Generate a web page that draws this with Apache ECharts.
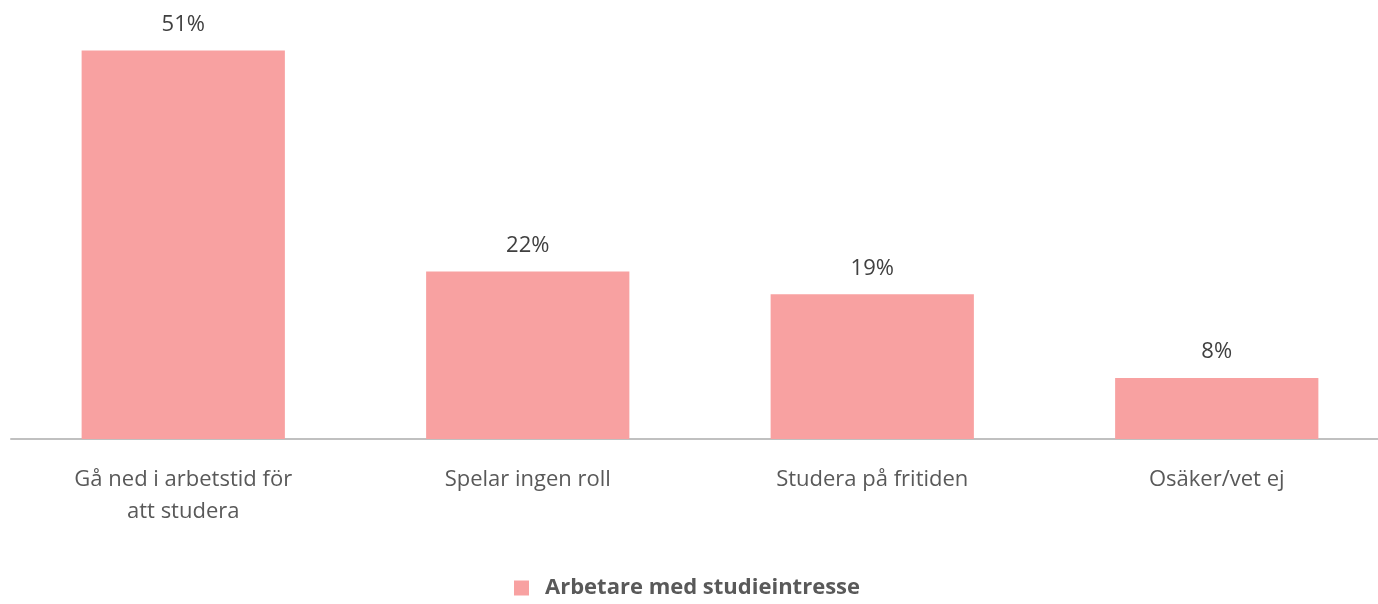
<!DOCTYPE html>
<html>
<head>
<meta charset="utf-8">
<script src="https://cdn.jsdelivr.net/npm/echarts@6/dist/echarts.min.js"></script>
<style>
  html, body { margin: 0; padding: 0; background: #fff; }
  #chart { width: 1378px; height: 604px; }
</style>
</head>
<body>
<div id="chart"></div>
<script>
const categories = ['Gå ned i arbetstid för\natt studera', 'Spelar ingen roll', 'Studera på fritiden', 'Osäker/vet ej']
const seriesName = 'Arbetare med studieintresse'
const values = [51, 22, 19, 8]

const fontFamily = '"Open Sans", Lato, sans-serif'
const chart = echarts.init(document.getElementById('chart'))
const option = {
  animation: false,
  grid: {
    left: 11,
    width: 1378,
    top: 20,
    bottom: 165,
    containLabel: false,
    outerBoundsMode: 'none'
  },
  legend: {
    bottom: 0,
    left: 509,
    icon: 'rect',
    itemWidth: 15,
    itemHeight: 15,
    itemGap: 20,
    textStyle: {
      fontFamily: fontFamily,
      fontSize: 22,
      fontWeight: 'bold',
      color: '#595959',
      padding: [0, 0, 0, 11]
    },
    data: [seriesName]
  },
  xAxis: {
    type: 'category',
    data: categories,
    axisLine: {
      lineStyle: { color: '#c0c0c0', width: 2 }
    },
    axisTick: { show: false },
    axisLabel: {
      interval: 0,
      margin: 25,
      fontFamily: fontFamily,
      fontSize: 22,
      lineHeight: 32,
      color: '#595959'
    }
  },
  yAxis: {
    type: 'value',
    min: 0,
    max: 55,
    show: false,
    splitLine: { show: false }
  },
  series: [
    {
      name: seriesName,
      type: 'bar',
      data: values,
      barWidth: '59%',
      itemStyle: { color: '#f8a1a1' },
      label: {
        show: true,
        position: 'top',
        distance: 15,
        formatter: '{c}%',
        fontFamily: fontFamily,
        fontSize: 22,
        color: '#404040'
      }
    }
  ]
}
option && chart.setOption(option)
</script>
</body>
</html>
